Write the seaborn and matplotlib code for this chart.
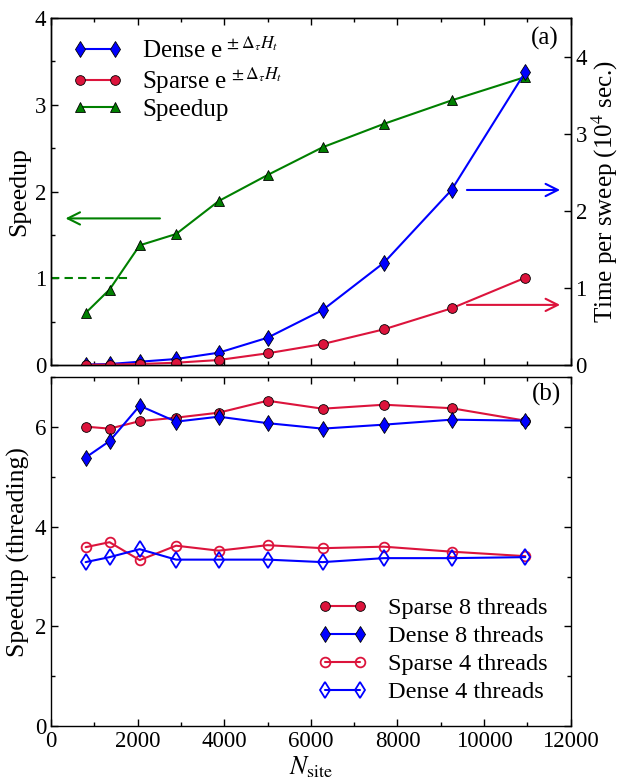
import matplotlib
matplotlib.use("Agg")
import matplotlib.pyplot as plt
import seaborn as sns
from matplotlib.ticker import MultipleLocator

# lattice sizes (N_site) shared by both panels
nsite = [800, 1352, 2048, 2888, 3872, 5000, 6272, 7688, 9248, 10952]

# panel (a)
speedup = [0.60, 0.87, 1.38, 1.51, 1.89, 2.19, 2.51, 2.78, 3.05, 3.32]
dense_time = [0.006, 0.013, 0.043, 0.078, 0.16, 0.354, 0.713, 1.327, 2.27, 3.80]
sparse_time = [0.003, 0.006, 0.013, 0.03, 0.065, 0.152, 0.272, 0.463, 0.735, 1.132]

# panel (b)
sparse8 = [6.01, 5.97, 6.12, 6.19, 6.29, 6.53, 6.37, 6.45, 6.38, 6.13]
dense8 = [5.39, 5.72, 6.43, 6.11, 6.21, 6.08, 5.97, 6.05, 6.15, 6.13]
sparse4 = [3.59, 3.69, 3.33, 3.62, 3.52, 3.63, 3.57, 3.60, 3.50, 3.41]
dense4 = [3.29, 3.39, 3.55, 3.34, 3.34, 3.34, 3.29, 3.37, 3.37, 3.39]

RED = "#dc143c"
BLUE = "#0000ff"
GREEN = "#008000"

sns.set_style("ticks")
plt.rcParams["font.family"] = ["Liberation Serif", "DejaVu Serif"]
plt.rcParams.update({
    "mathtext.fontset": "stix",
    "font.size": 16,
    "xtick.labelsize": 16.5,
    "ytick.labelsize": 16.5,
    "axes.labelsize": 18.5,
    "xtick.direction": "in",
    "ytick.direction": "in",
    "axes.edgecolor": "black",
    "axes.labelcolor": "black",
    "text.color": "black",
    "xtick.color": "black",
    "ytick.color": "black",
    "axes.linewidth": 1.0,
})

fig = plt.figure(figsize=(6.22, 7.83), dpi=100)
ax1 = fig.add_axes([0.082, 0.5338, 0.8355, 0.4432])
ax2 = ax1.twinx()
ax3 = fig.add_axes([0.082, 0.0728, 0.8355, 0.4453])

# ---- panel (a)
sns.lineplot(x=nsite, y=dense_time, ax=ax2, color=BLUE, marker="d", markersize=8,
             markeredgecolor="black", markeredgewidth=0.6, lw=1.5, legend=False,
             label=r"Dense e$^{\,\pm\Delta_\tau H_t}$")
sns.lineplot(x=nsite, y=sparse_time, ax=ax2, color=RED, marker="o", markersize=7,
             markeredgecolor="black", markeredgewidth=0.6, lw=1.5, legend=False,
             label=r"Sparse e$^{\,\pm\Delta_\tau H_t}$")
sns.lineplot(x=nsite, y=speedup, ax=ax1, color=GREEN, marker="^", markersize=7,
             markeredgecolor="black", markeredgewidth=0.6, lw=1.5, legend=False,
             label="Speedup")

ax1.plot([0, 1770], [1, 1], ls=(0, (4, 2.5)), color=GREEN, lw=1.5)
ax1.annotate("", xy=(270, 1.69), xytext=(2580, 1.69),
             arrowprops=dict(arrowstyle="->", color=GREEN, lw=1.5, mutation_scale=22))
ax2.annotate("", xy=(11820, 2.27), xytext=(9540, 2.27),
             arrowprops=dict(arrowstyle="->", color=BLUE, lw=1.5, mutation_scale=22))
ax2.annotate("", xy=(11820, 0.78), xytext=(9540, 0.78),
             arrowprops=dict(arrowstyle="->", color=RED, lw=1.5, mutation_scale=22))

ax1.set_xlim(0, 12000)
ax1.set_ylim(0, 4)
ax2.set_ylim(0, 4.5)
ax1.xaxis.set_major_locator(MultipleLocator(2000))
ax1.xaxis.set_minor_locator(MultipleLocator(1000))
ax1.yaxis.set_major_locator(MultipleLocator(1))
ax1.yaxis.set_minor_locator(MultipleLocator(0.5))
ax2.yaxis.set_major_locator(MultipleLocator(1))
ax1.tick_params(axis="x", which="both", top=True, bottom=True, labelbottom=False)
ax1.tick_params(which="major", length=5, width=1)
ax1.tick_params(which="minor", length=3, width=1)
ax2.tick_params(which="major", length=5, width=1)
ax1.set_ylabel("Speedup", labelpad=3)
ax2.set_ylabel(r"Time per sweep (10$^4$ sec.)", labelpad=2, fontsize=18)
ax1.text(0.977, 0.975, "(a)", transform=ax1.transAxes, ha="right", va="top",
         fontsize=18)

h2, l2 = ax2.get_legend_handles_labels()
h1, l1 = ax1.get_legend_handles_labels()
ax2.legend(h2 + h1, l2 + l1, loc="upper left", frameon=False, numpoints=2,
           fontsize=18, handlelength=2.0, handletextpad=0.76, labelspacing=0.1,
           borderaxespad=0, bbox_to_anchor=(0.023, 0.972))

# ---- panel (b)
sns.lineplot(x=nsite, y=sparse8, ax=ax3, color=RED, marker="o", markersize=7,
             markeredgecolor="black", markeredgewidth=0.6, lw=1.5, legend=False,
             label="Sparse 8 threads")
sns.lineplot(x=nsite, y=dense8, ax=ax3, color=BLUE, marker="d", markersize=8,
             markeredgecolor="black", markeredgewidth=0.6, lw=1.5, legend=False,
             label="Dense 8 threads")
sns.lineplot(x=nsite, y=sparse4, ax=ax3, color=RED, marker="o", markersize=7,
             markerfacecolor="none", markeredgecolor=RED, markeredgewidth=1.3,
             lw=1.5, legend=False, label="Sparse 4 threads")
sns.lineplot(x=nsite, y=dense4, ax=ax3, color=BLUE, marker="d", markersize=8,
             markerfacecolor="none", markeredgecolor=BLUE, markeredgewidth=1.3,
             lw=1.5, legend=False, label="Dense 4 threads")

ax3.set_xlim(0, 12000)
ax3.set_ylim(0, 7)
ax3.xaxis.set_major_locator(MultipleLocator(2000))
ax3.xaxis.set_minor_locator(MultipleLocator(1000))
ax3.yaxis.set_major_locator(MultipleLocator(2))
ax3.yaxis.set_minor_locator(MultipleLocator(1))
ax3.tick_params(which="both", top=True, right=True)
ax3.tick_params(which="major", length=5, width=1)
ax3.tick_params(which="minor", length=3, width=1)
ax3.set_ylabel("Speedup (threading)", labelpad=3)
ax3.set_xlabel(r"$N_{\rm site}$", labelpad=2)
ax3.text(0.981, 0.983, "(b)", transform=ax3.transAxes, ha="right", va="top",
         fontsize=18)
ax3.legend(loc="lower right", frameon=False, numpoints=2, fontsize=17.5,
           handlelength=2.04, handletextpad=0.86, labelspacing=0.25,
           borderaxespad=0, bbox_to_anchor=(0.975, 0.037))

fig.savefig("out.png", dpi=100)
